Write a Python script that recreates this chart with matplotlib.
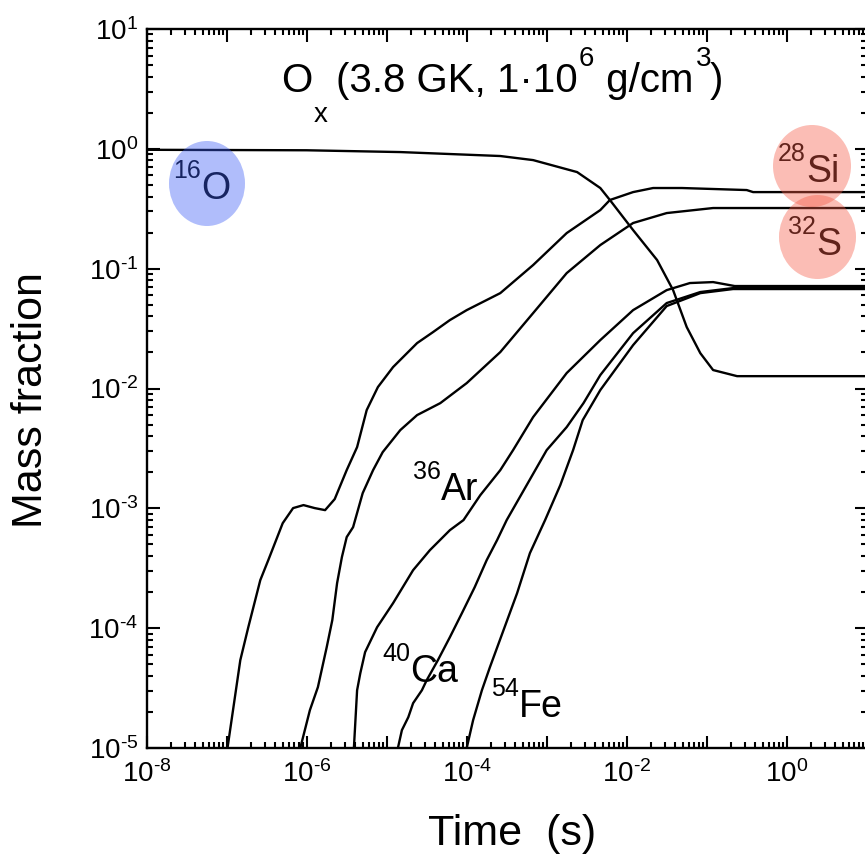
import numpy as np
import matplotlib
matplotlib.use("Agg")
import matplotlib.pyplot as plt
from matplotlib.patches import Ellipse
from matplotlib.ticker import FixedLocator, FuncFormatter, LogLocator, NullFormatter

plt.rcParams["font.family"] = ["Liberation Sans", "DejaVu Sans"]
plt.rcParams["mathtext.fontset"] = "custom"
plt.rcParams["mathtext.rm"] = "Liberation Sans"
plt.rcParams["mathtext.it"] = "Liberation Sans:italic"
plt.rcParams["mathtext.bf"] = "Liberation Sans:bold"
plt.rcParams["axes.unicode_minus"] = False

# ---- abundance histories (log10 time [s], log10 mass fraction) ----
logt_o16 = [-8.0, -6.0, -4.83, -3.58, -3.17, -2.62, -2.33, -2.21, -1.92, -1.62,
            -1.42, -1.25, -1.08, -0.92, -0.62, 1.0]
logx_o16 = [-0.008, -0.012, -0.027, -0.06, -0.094, -0.194, -0.327, -0.427, -0.678, -0.928,
            -1.179, -1.487, -1.705, -1.846, -1.897, -1.897]

logt_si28 = [-6.99, -6.83, -6.73, -6.58, -6.48, -6.30, -6.17, -6.04, -5.90, -5.77,
             -5.65, -5.50, -5.37, -5.25, -5.11, -4.92, -4.62, -4.42, -4.21, -4.00,
             -3.58, -3.17, -2.75, -2.33, -2.21, -1.92, -1.67, -1.31, -0.50, -0.42, 1.0]
logx_si28 = [-5.0, -4.267, -3.992, -3.599, -3.432, -3.124, -2.998, -2.973, -2.998, -3.015,
             -2.923, -2.681, -2.489, -2.180, -1.988, -1.821, -1.621, -1.529, -1.429, -1.346,
             -1.204, -0.970, -0.703, -0.511, -0.427, -0.361, -0.327, -0.327, -0.344, -0.361, -0.361]

logt_s32 = [-6.08, -5.96, -5.86, -5.75, -5.68, -5.62, -5.56, -5.50, -5.42, -5.30,
            -5.17, -5.05, -4.83, -4.62, -4.33, -4.00, -3.58, -3.17, -2.75, -2.33,
            -1.92, -1.50, -0.92, 1.0]
logx_s32 = [-5.0, -4.684, -4.492, -4.159, -3.933, -3.624, -3.407, -3.240, -3.157, -2.873,
            -2.681, -2.531, -2.347, -2.222, -2.122, -1.955, -1.696, -1.371, -1.037, -0.803,
            -0.619, -0.536, -0.494, -0.494]

logt_ar36 = [-5.41, -5.37, -5.33, -5.27, -5.12, -4.92, -4.67, -4.46, -4.21, -4.04,
             -3.83, -3.58, -3.42, -3.17, -2.75, -2.33, -1.92, -1.50, -1.21, -0.92,
             -0.65, 1.0]
logx_ar36 = [-5.0, -4.518, -4.376, -4.200, -3.992, -3.791, -3.516, -3.349, -3.182, -3.098,
             -2.890, -2.681, -2.514, -2.239, -1.871, -1.596, -1.346, -1.179, -1.120, -1.112,
             -1.145, -1.145]

logt_ca40 = [-4.86, -4.81, -4.73, -4.67, -4.56, -4.50, -4.36, -4.21, -4.06, -3.90,
             -3.75, -3.62, -3.50, -3.00, -2.75, -2.54, -2.33, -1.92, -1.50, -1.08,
             -0.67, 1.0]
logx_ca40 = [-5.0, -4.851, -4.743, -4.626, -4.518, -4.434, -4.267, -4.075, -3.875, -3.658,
             -3.432, -3.265, -3.098, -2.514, -2.322, -2.122, -1.888, -1.538, -1.287, -1.195,
             -1.162, -1.162]

logt_fe54 = [-4.00, -3.92, -3.81, -3.71, -3.54, -3.37, -3.21, -3.02, -2.83, -2.67,
             -2.55, -2.33, -1.92, -1.50, -1.08, -0.67, 1.0]
logx_fe54 = [-5.0, -4.768, -4.518, -4.326, -4.017, -3.708, -3.374, -3.098, -2.806, -2.514,
             -2.264, -2.013, -1.638, -1.312, -1.204, -1.170, -1.170]

curves = [
    (logt_o16, logx_o16),
    (logt_si28, logx_si28),
    (logt_s32, logx_s32),
    (logt_ar36, logx_ar36),
    (logt_ca40, logx_ca40),
    (logt_fe54, logx_fe54),
]

x_decades = list(range(-8, 2))
y_decades = list(range(-5, 2))

W, H = 865, 858
fig = plt.figure(figsize=(W / 100, H / 100), dpi=100)
ax = fig.add_axes([146.7 / W, (H - 748) / H, 720 / W, 719 / H])


def fx(px):
    return px / W


def fy(py):
    return 1 - py / H


for lt, lx in curves:
    ax.plot(10.0 ** np.asarray(lt), 10.0 ** np.asarray(lx), color="black", lw=1.7,
            solid_joinstyle="round")

ax.set_xscale("log")
ax.set_yscale("log")
ax.set_xlim(1e-8, 1e1)
ax.set_ylim(1e-5, 1e1)

ax.xaxis.set_major_locator(FixedLocator([10.0 ** d for d in x_decades]))
ax.yaxis.set_major_locator(FixedLocator([10.0 ** d for d in y_decades]))
ax.xaxis.set_minor_locator(LogLocator(base=10, subs=np.arange(2, 10), numticks=50))
ax.yaxis.set_minor_locator(LogLocator(base=10, subs=np.arange(2, 10), numticks=50))
ax.xaxis.set_minor_formatter(NullFormatter())
ax.yaxis.set_minor_formatter(NullFormatter())


def power_text(e):
    # short hyphen for negative exponents, as in classic plotting packages
    exp = str(abs(e)) if e >= 0 else "\u2010" + str(abs(e))
    return r"$\mathregular{10^{%s}}$" % exp


def decade_label(v, pos):
    return power_text(int(round(np.log10(v))))


def even_decade_label(v, pos):
    e = int(round(np.log10(v)))
    return "" if e % 2 else power_text(e)


ax.xaxis.set_major_formatter(FuncFormatter(even_decade_label))
ax.yaxis.set_major_formatter(FuncFormatter(decade_label))

ax.tick_params(which="both", direction="in", top=True, right=True, width=1.5)
ax.tick_params(which="major", length=9, labelsize=20)
ax.tick_params(which="minor", length=4.5)
ax.tick_params(axis="x", which="major", pad=9)
ax.tick_params(axis="y", which="major", pad=6)
for sp in ax.spines.values():
    sp.set_linewidth(1.7)

# axis titles
fig.text(fx(512), fy(845), "Time  (s)", fontsize=31, ha="center", va="baseline")
fig.text(fx(31), fy(400), "Mass fraction", fontsize=31, ha="center", va="center",
         rotation=90)

# run conditions
main_sz, small_sz = 29, 20
fig.text(fx(281), fy(92), "O", fontsize=main_sz, va="baseline")
fig.text(fx(314), fy(122), "x", fontsize=small_sz, va="baseline")
fig.text(fx(336), fy(92), "(3.8 GK, 1\u00b710", fontsize=main_sz, va="baseline")
fig.text(fx(579), fy(66), "6", fontsize=small_sz, va="baseline")
fig.text(fx(595), fy(92), " g/cm", fontsize=main_sz, va="baseline")
fig.text(fx(696), fy(66), "3", fontsize=small_sz, va="baseline")
fig.text(fx(710), fy(92), ")", fontsize=main_sz, va="baseline")

# isotope labels: (mass number, symbol, element x, baseline y)
iso_labels = [
    ("16", "O", 201, 199),
    ("28", "Si", 806, 182),
    ("32", "S", 816, 255),
    ("36", "Ar", 441, 500),
    ("40", "Ca", 410, 682),
    ("54", "Fe", 519, 717),
]
for mass, sym, x0, y0 in iso_labels:
    fig.text(fx(x0), fy(y0 - 21), mass, fontsize=18, ha="right", va="baseline", zorder=3)
    fig.text(fx(x0), fy(y0), sym, fontsize=27, ha="left", va="baseline", zorder=3)

# translucent markers behind the fuel and main products
markers = [
    ((207, 183.5), 76, 85, "#3a5cf5"),
    ((812, 166), 78, 82, "#f55a46"),
    ((817.5, 237), 77, 84, "#f55a46"),
]
for (cx, cy), w, h, col in markers:
    fig.add_artist(Ellipse((fx(cx), fy(cy)), w / W, h / H, transform=fig.transFigure,
                           facecolor=col, edgecolor="none", alpha=0.4, zorder=4))

fig.savefig("out.png", dpi=100)
